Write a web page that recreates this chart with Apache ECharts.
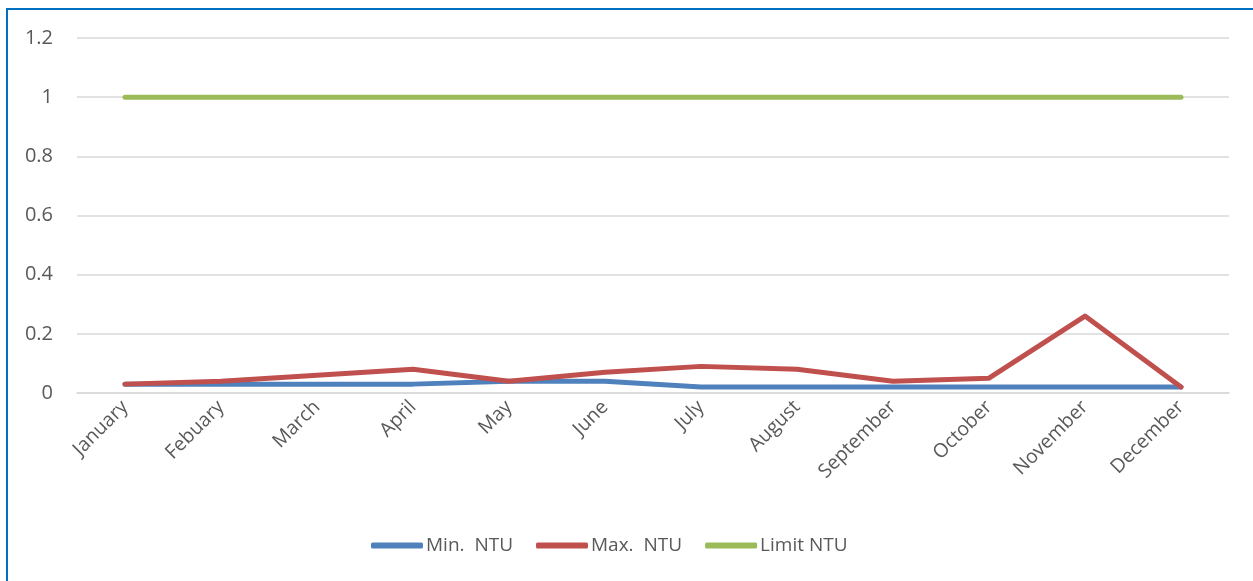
<!DOCTYPE html>
<html>
<head>
<meta charset="utf-8">
<script src="https://cdn.jsdelivr.net/npm/echarts@6/dist/echarts.min.js"></script>
<style>
  html, body { margin: 0; padding: 0; background: #fff; }
  #chart { width: 1253px; height: 581px; position: absolute; left: 0; top: 0; }
  #frame { position: absolute; left: 6px; top: 8px; width: 1300px; height: 700px;
           border-left: 2px solid #0070C0; border-top: 2px solid #0070C0; pointer-events: none; }
</style>
</head>
<body>
<div id="chart"></div>
<div id="frame"></div>
<script>
// Données
const months = ['January', 'Febuary', 'March', 'April', 'May', 'June', 'July',
                'August', 'September', 'October', 'November', 'December'];
const minNtu = [0.03, 0.03, 0.03, 0.03, 0.04, 0.04, 0.02, 0.02, 0.02, 0.02, 0.02, 0.02];
const maxNtu = [0.03, 0.04, 0.06, 0.08, 0.04, 0.07, 0.09, 0.08, 0.04, 0.05, 0.26, 0.02];
const limitNtu = [1, 1, 1, 1, 1, 1, 1, 1, 1, 1, 1, 1];

const chart = echarts.init(document.getElementById('chart'));

const lineSeries = (name, data, color) => ({
    name: name,
    type: 'line',
    data: data,
    symbol: 'none',
    color: color,
    lineStyle: { width: 5, color: color, cap: 'round', join: 'round' }
});

const options = {
    animation: false,
    textStyle: { fontFamily: 'Open Sans, sans-serif' },
    grid: { left: 77, right: 24, top: 38, bottom: 188 },
    legend: {
        bottom: 21,
        left: 366,
        icon: 'roundRect',
        itemWidth: 52,
        itemHeight: 6,
        itemGap: 23,
        textStyle: { fontSize: 19, color: '#595959', padding: [0, 0, 0, -2] },
        data: ['Min.  NTU', 'Max.  NTU', 'Limit NTU']
    },
    xAxis: {
        type: 'category',
        data: months,
        boundaryGap: true,
        axisLine: { lineStyle: { color: '#d9d9d9', width: 1.5 } },
        axisTick: { show: false },
        axisLabel: { rotate: 45, fontSize: 19.5, color: '#595959', margin: 11, interval: 0 }
    },
    yAxis: {
        type: 'value',
        min: 0,
        max: 1.2,
        interval: 0.2,
        axisLine: { show: false },
        axisTick: { show: false },
        splitLine: { lineStyle: { color: '#d9d9d9', width: 1.5 } },
        axisLabel: {
            fontSize: 20, color: '#595959', margin: 24,
            formatter: v => String(Math.round(v * 10) / 10)
        }
    },
    series: [
        lineSeries('Min.  NTU', minNtu, '#4F81BD'),
        lineSeries('Max.  NTU', maxNtu, '#C0504D'),
        lineSeries('Limit NTU', limitNtu, '#9BBB59')
    ]
};

chart.setOption(options);

window.addEventListener('resize', () => {
    chart.resize();
});
</script>
</body>
</html>
